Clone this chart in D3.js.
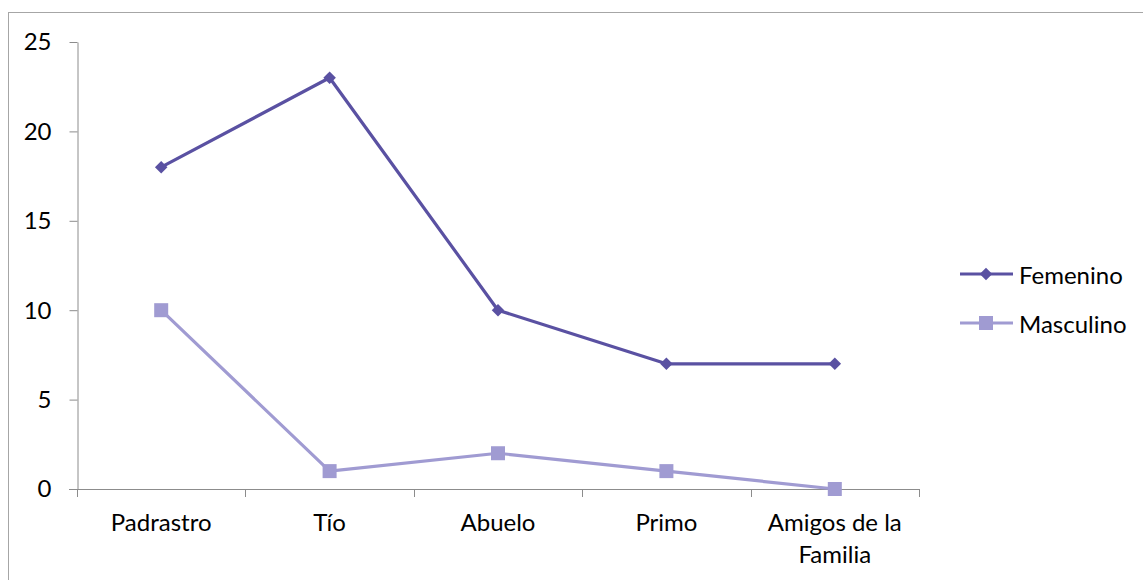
<!DOCTYPE html>
<html>
<head>
<meta charset="utf-8">
<script src="https://cdn.jsdelivr.net/npm/d3@7"></script>
<style>
  html, body { margin: 0; padding: 0; background: #fff; }
  svg { display: block; }
  text { font-family: Lato, "Open Sans", sans-serif; fill: #000; }
</style>
</head>
<body>
<svg id="chart" width="1143" height="580"></svg>
<script>
// Categories and series values
const categories = ["Padrastro", "Tío", "Abuelo", "Primo", "Amigos de la Familia"];
const femenino = [18, 23, 10, 7, 7];
const masculino = [10, 1, 2, 1, 0];
const yTicks = [0, 5, 10, 15, 20, 25];
const seriesNames = ["Femenino", "Masculino"];

const colors = { Femenino: "#5a51a2", Masculino: "#a09bd2" };
const fontSize = 24;

const svg = d3.select("#chart");

// Outer frame (extends past the right and bottom edges)
svg.append("rect")
  .attr("x", 8.5).attr("y", 12.5)
  .attr("width", 1200).attr("height", 700)
  .attr("fill", "none").attr("stroke", "#a6a6a6").attr("stroke-width", 1);

const plot = { left: 77, right: 919, top: 42, bottom: 489 };

const x = d3.scaleBand().domain(categories).range([plot.left, plot.right]);
const y = d3.scaleLinear().domain([0, 25]).range([plot.bottom, plot.top]);

const axisColor = "#8c8c8c";

// Y axis
const yAxis = svg.append("g")
  .attr("transform", `translate(${plot.left + 0.5},0)`)
  .call(d3.axisLeft(y).tickValues(yTicks).tickSize(8).tickPadding(18).tickSizeOuter(0));
yAxis.select(".domain").attr("stroke", axisColor);
yAxis.selectAll(".tick line").attr("stroke", axisColor);
yAxis.selectAll(".tick text")
  .attr("font-size", fontSize).attr("font-family", "Lato, sans-serif").attr("fill", "#000")
  .attr("dy", "0.33em");

// X axis: the line plus ticks at the band boundaries
const xAxisG = svg.append("g");
xAxisG.append("line")
  .attr("x1", plot.left - 8).attr("x2", plot.right + 0.5)
  .attr("y1", plot.bottom + 0.5).attr("y2", plot.bottom + 0.5)
  .attr("stroke", axisColor);
const boundaries = categories.map(c => x(c)).concat([plot.right]);
xAxisG.selectAll("line.xtick").data(boundaries).join("line")
  .attr("class", "xtick")
  .attr("x1", d => Math.round(d) + 0.5).attr("x2", d => Math.round(d) + 0.5)
  .attr("y1", plot.bottom).attr("y2", plot.bottom + 8)
  .attr("stroke", axisColor);

// Category labels, wrapped to two lines where needed
const catLines = { "Amigos de la Familia": ["Amigos de la", "Familia"] };
categories.forEach(c => {
  const lines = catLines[c] || [c];
  const t = svg.append("text")
    .attr("x", x(c) + x.bandwidth() / 2)
    .attr("y", 531)
    .attr("text-anchor", "middle")
    .attr("font-size", fontSize);
  lines.forEach((l, i) => {
    t.append("tspan").attr("x", x(c) + x.bandwidth() / 2).attr("dy", i === 0 ? 0 : 32).text(l);
  });
});

const cx = c => x(c) + x.bandwidth() / 2;
const line = d3.line().x(d => cx(d.c)).y(d => y(d.v));

const series = [
  { name: "Femenino", values: femenino, marker: "diamond" },
  { name: "Masculino", values: masculino, marker: "square" }
];

function drawMarker(g, kind, px, py, color) {
  if (kind === "diamond") {
    g.append("path")
      .attr("d", d3.symbol().type(d3.symbolDiamond2 || d3.symbolDiamond).size(100)())
      .attr("transform", `translate(${px},${py})`)
      .attr("fill", color);
  } else {
    g.append("rect")
      .attr("x", px - 7).attr("y", py - 7)
      .attr("width", 14).attr("height", 14)
      .attr("fill", color);
  }
}

// Draw Masculino first so Femenino sits on top
series.slice().reverse().forEach(s => {
  const data = s.values.map((v, i) => ({ c: categories[i], v }));
  const g = svg.append("g");
  g.append("path").datum(data)
    .attr("d", line)
    .attr("fill", "none")
    .attr("stroke", colors[s.name])
    .attr("stroke-width", 3.2)
    .attr("stroke-linejoin", "round");
  data.forEach(d => drawMarker(g, s.marker, cx(d.c), y(d.v), colors[s.name]));
});

// Legend
const legendY = [274, 323];
series.forEach((s, i) => {
  const g = svg.append("g");
  g.append("line")
    .attr("x1", 960).attr("x2", 1013)
    .attr("y1", legendY[i]).attr("y2", legendY[i])
    .attr("stroke", colors[s.name]).attr("stroke-width", 3.2);
  drawMarker(g, s.marker, 986, legendY[i], colors[s.name]);
  g.append("text")
    .attr("x", 1019).attr("y", legendY[i] + 10)
    .attr("font-size", fontSize)
    .text(s.name);
});
</script>
</body>
</html>
